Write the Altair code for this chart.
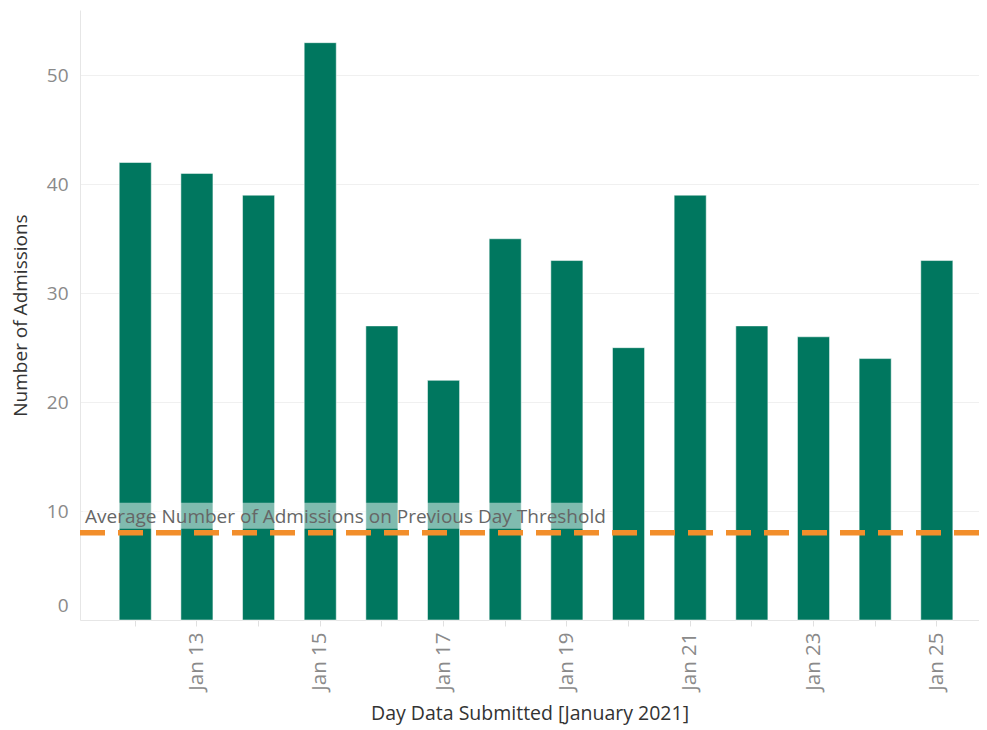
import altair as alt
import pandas as pd

days = ["Jan 12", "Jan 13", "Jan 14", "Jan 15", "Jan 16", "Jan 17", "Jan 18",
        "Jan 19", "Jan 20", "Jan 21", "Jan 22", "Jan 23", "Jan 24", "Jan 25"]
admissions = [42, 41, 39, 53, 27, 22, 35, 33, 25, 39, 27, 26, 24, 33]
threshold = 8
threshold_label = "Average Number of Admissions on Previous Day Threshold"
y_ticks = [0, 10, 20, 30, 40, 50]

df = pd.DataFrame({"day": days, "admissions": admissions})
ref_df = pd.DataFrame({"value": [threshold], "label": [threshold_label]})

FONT = "Open Sans"

x_enc = alt.X(
    "day:N",
    sort=days,
    title="Day Data Submitted [January 2021]",
    scale=alt.Scale(paddingInner=0.48, paddingOuter=0.53, align=0.6),
    axis=alt.Axis(
        labelAngle=270,
        labelExpr="toNumber(slice(datum.value, 4)) % 2 == 1 ? datum.value : ''",
        bandPosition=0.5,
        tickSize=6,
        tickColor="#e0e0e0",
        domainColor="#e6e6e6",
        labelPadding=6,
        labelColor="#8a8a8a",
        labelFontSize=20.5,
        labelFont=FONT,
        titleFont=FONT,
        titleFontSize=19.5,
        titleFontWeight="normal",
        titleColor="#333333",
        titlePadding=14,
        grid=False,
    ),
)

y_scale = alt.Scale(domain=[0, 56], nice=False)
y_axis = alt.Axis(
    values=y_ticks,
    title="Number of Admissions",
    grid=True,
    gridColor="#f0f0f0",
    ticks=False,
    tickSize=0,
    domainColor="#e6e6e6",
    labelPadding=12,
    labelFlush=True,
    labelOffset={"condition": {"test": "datum.value === 0", "value": -5}, "value": 0},
    labelColor="#8a8a8a",
    labelFontSize=19,
    labelFont=FONT,
    titleFont=FONT,
    titleFontSize=19,
    titleFontWeight="normal",
    titleColor="#333333",
    titlePadding=16,
)

bars = alt.Chart(df).mark_bar(
    color="#00775F", stroke="#ffffff", strokeOpacity=0.5, strokeWidth=1
).encode(
    x=x_enc,
    y=alt.Y("admissions:Q", scale=y_scale, axis=y_axis),
)

rule = alt.Chart(ref_df).mark_rule(
    color="#F28E2B", strokeDash=[25, 13], strokeWidth=5.5
).encode(y=alt.Y("value:Q"))

label_bg = alt.Chart(ref_df).mark_rect(
    color="#ffffff", opacity=0.5, yOffset=-30, y2Offset=-4
).encode(
    x=alt.value(3), x2=alt.value(530),
    y=alt.Y("value:Q"), y2=alt.Y2("value:Q"),
)

label = alt.Chart(ref_df).mark_text(
    align="left", baseline="middle", dy=-16,
    font=FONT, fontSize=19, color="#666666"
).encode(x=alt.value(5), y=alt.Y("value:Q"), text="label:N")

chart = alt.layer(bars, rule, label_bg, label).properties(
    width=899,
    height=610,
    padding={"left": 72, "top": 2, "right": 0, "bottom": 110},
    autosize=alt.AutoSizeParams(type="none"),
).configure_view(stroke=None)

chart.save("out.html", embed_options={"renderer": "svg", "actions": False})
